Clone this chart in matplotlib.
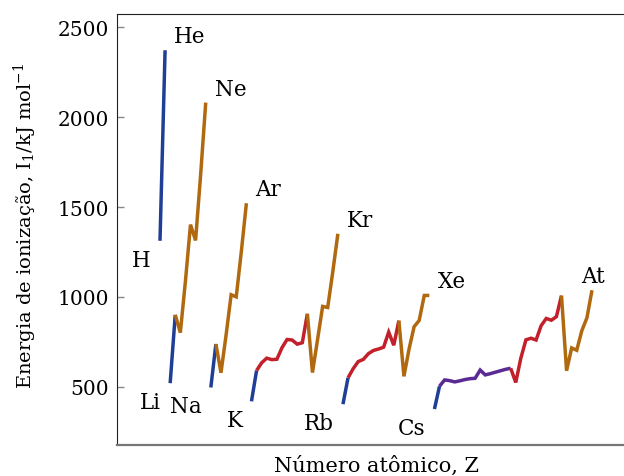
import matplotlib
matplotlib.use("Agg")
import matplotlib.pyplot as plt

# ---- data ----
atomic_number = list(range(1, 87))
ionization_energy = [
    1312, 2372,                                   # H, He
    520, 900, 801, 1086, 1402, 1314, 1681, 2081,  # Li..Ne
    496, 738, 578, 787, 1012, 1000, 1251, 1521,   # Na..Ar
    419, 590, 633, 659, 651, 653, 717, 763, 760, 737, 745, 906,  # K..Zn
    579, 762, 947, 941, 1140, 1351,               # Ga..Kr
    403, 550, 600, 640, 652, 684, 702, 710, 720, 804, 731, 868,  # Rb..Cd
    558, 709, 834, 869, 1008, 1008,               # In..Xe (as drawn)
    376, 503,                                     # Cs, Ba
    538, 534, 527, 533, 540, 545, 547, 593, 566, 573, 581, 589, 597, 603,  # La..Yb
    524, 659, 761, 770, 760, 840, 880, 870, 890, 1007,  # Lu..Hg
    589, 716, 703, 812, 883, 1037,                # Tl..Rn
]

# block segments: (first Z, last Z, block)
segments = [
    (1, 2, "s"),
    (3, 4, "s"), (4, 10, "p"),
    (11, 12, "s"), (12, 18, "p"),
    (19, 20, "s"), (20, 30, "d"), (30, 36, "p"),
    (37, 38, "s"), (38, 48, "d"), (48, 54, "p"),
    (55, 56, "s"), (56, 70, "f"), (70, 80, "d"), (80, 86, "p"),
]
block_colors = {"s": "#1f3f96", "p": "#b0690f", "d": "#c2202a", "f": "#5a2a95"}

lower_labels = [("H", 1), ("Li", 3), ("Na", 11), ("K", 19), ("Rb", 37), ("Cs", 55)]
upper_labels = [("He", 2), ("Ne", 10), ("Ar", 18), ("Kr", 36), ("Xe", 54)]
end_label = ("At", 86)

yticks = [500, 1000, 1500, 2000, 2500]

# ---- figure ----
plt.rcParams["font.family"] = ["DejaVu Serif"]
plt.rcParams["mathtext.fontset"] = "dejavuserif"

fig = plt.figure(figsize=(6.24, 4.77), dpi=100)
ax = fig.add_axes([117 / 624, 1 - 446 / 477, 1 - 117 / 624, (446 - 15.3) / 477])

for z0, z1, blk in segments:
    i0, i1 = atomic_number.index(z0), atomic_number.index(z1)
    ax.plot(atomic_number[i0:i1 + 1], ionization_energy[i0:i1 + 1],
            color=block_colors[blk], lw=2.5, solid_joinstyle="miter",
            solid_capstyle="butt")

def E(z):
    return ionization_energy[atomic_number.index(z)]

for sym, z in lower_labels:
    ax.annotate(sym, (z, E(z)), xytext=(-9, -25), textcoords="offset pixels",
                ha="right", va="baseline", fontsize=15.5)
for sym, z in upper_labels:
    ax.annotate(sym, (z, E(z)), xytext=(9, 8), textcoords="offset pixels",
                ha="left", va="baseline", fontsize=15.5)
sym, z = end_label
ax.annotate(sym, (z, E(z)), xytext=(-11, 8.5), textcoords="offset pixels",
            ha="left", va="baseline", fontsize=15.5)

ax.set_xlim(-7.46, 92.3)
ax.set_ylim(176, 2572)
ax.set_xticks([])
ax.set_yticks(yticks)
ax.tick_params(axis="y", direction="in", length=5, width=1, color="#888888",
               labelsize=14.5, pad=6)

ax.spines["right"].set_visible(False)
ax.spines["left"].set_color("#222222")
ax.spines["top"].set_color("#222222")
ax.spines["bottom"].set_color("#777777")
ax.spines["bottom"].set_linewidth(1.6)

fig.text(25 / 624, 1 - 226 / 477,
         r"Energia de ionização, I$_1$/kJ mol$^{-1}$",
         rotation=90, ha="center", va="center", fontsize=14)
fig.text(376.7 / 624, 1 - 471.7 / 477, "Número atômico, Z",
         ha="center", va="baseline", fontsize=15)

fig.savefig("out.png", dpi=100)
